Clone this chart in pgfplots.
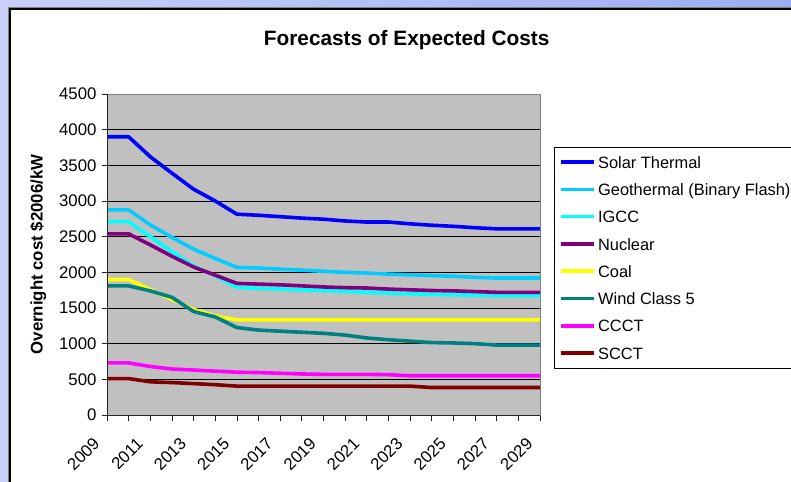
\documentclass[border=0pt]{standalone}
\usepackage{fontspec}
\setmainfont{Liberation Sans}
\usepackage{pgfplots}
\usepackage{pgfplotstable}
\pgfplotsset{compat=1.18}

\definecolor{plotgray}{RGB}{192,192,192}
\definecolor{framegray}{RGB}{128,128,128}
\definecolor{bgA}{RGB}{200,208,248}
\definecolor{bgB}{RGB}{156,172,244}
\definecolor{solarc}{RGB}{0,0,255}
\definecolor{geoc}{RGB}{0,204,255}
\definecolor{igccc}{RGB}{0,255,255}
\definecolor{nucc}{RGB}{128,0,128}
\definecolor{coalc}{RGB}{255,255,0}
\definecolor{windc}{RGB}{0,128,128}
\definecolor{ccctc}{RGB}{255,0,255}
\definecolor{scctc}{RGB}{128,0,0}

% Overnight cost forecasts, $2006/kW
\pgfplotstableread{
year solar geo  igcc nuclear coal wind ccct scct
2009 3900  2875 2710 2540    1900 1810 730  510
2010 3900  2875 2710 2540    1900 1810 730  510
2011 3620  2665 2500 2385    1760 1740 680  465
2012 3390  2490 2290 2225    1620 1650 645  455
2013 3165  2325 2090 2075    1480 1450 630  440
2014 3000  2195 1950 1960    1390 1375 615  425
2015 2815  2070 1790 1845    1335 1225 600  405
2016 2800  2060 1775 1835    1335 1190 595  405
2017 2780  2045 1765 1825    1335 1175 585  405
2018 2760  2030 1755 1810    1335 1160 575  405
2019 2745  2015 1745 1795    1335 1145 570  405
2020 2720  2000 1735 1785    1335 1120 570  405
2021 2705  1990 1720 1780    1335 1080 570  405
2022 2705  1975 1710 1765    1335 1055 565  405
2023 2680  1965 1700 1755    1335 1035 550  405
2024 2660  1955 1690 1745    1335 1015 550  385
2025 2645  1945 1685 1740    1335 1010 550  385
2026 2625  1930 1680 1730    1335 1000 550  385
2027 2610  1920 1675 1720    1335  980 550  385
2028 2610  1920 1675 1720    1335  980 550  385
2029 2610  1920 1675 1720    1335  980 550  385
}\costs

\newcommand{\reg}{\fontsize{16.8bp}{20bp}\selectfont}
\newcommand{\leg}{\fontsize{16.4bp}{20bp}\selectfont}

\begin{document}
\begin{tikzpicture}
\path[use as bounding box] (0bp,0bp) rectangle (791bp,482bp);
\clip (0bp,0bp) rectangle (791bp,482bp);
% slide background and chart panel
\shade[left color=bgA, right color=bgB] (0bp,0bp) rectangle (791bp,482bp);
\fill[white] (10bp,-5bp) rectangle (800bp,473bp);
\draw[framegray, line width=1.2bp] (8.6bp,-5bp) -- (8.6bp,474.4bp) -- (800bp,474.4bp);
\draw[black, line width=1.4bp] (10bp,-5bp) -- (10bp,473bp) -- (800bp,473bp);
\node[font=\bfseries\fontsize{20.8bp}{24bp}\selectfont, anchor=base] at (406.7bp,436bp) {Forecasts of Expected Costs};

\begin{axis}[
  at={(107bp,67bp)}, anchor=south west,
  scale only axis, width=433bp, height=321bp,
  xmin=2009, xmax=2029, ymin=0, ymax=4500,
  xtick={2009,2011,...,2029},
  minor xtick={2010,2012,...,2028},
  ytick={0,500,...,4500},
  xticklabel={\pgfmathprintnumber[1000 sep={},assume math mode=true]{\tick}},
  yticklabel={\pgfmathprintnumber[1000 sep={},assume math mode=true]{\tick}},
  tick pos=left, tick align=outside,
  major tick length=5.5bp, minor tick length=5.5bp,
  tick style={black!85, line width=0.8bp},
  minor tick style={black!85, line width=0.8bp},
  ymajorgrids, grid style={black, line width=0.8bp},
  axis background/.style={fill=plotgray},
  axis line style={draw=framegray, line width=0.9bp},
  tick label style={font=\reg},
  yticklabel style={xshift=-1.5bp},
  xticklabel style={anchor=east, yshift=-18bp, xshift=-8bp, rotate=45},
  ylabel={Overnight cost \$2006/kW},
  every axis y label/.style={at={(axis description cs:-0.159,0.5)}, rotate=90, anchor=center, font=\bfseries\reg},
  clip mode=individual,
  no markers,
  every axis plot/.append style={line width=3.6bp, line join=round},
  legend cell align=left,
  legend style={at={(1.033,0.834)}, anchor=north west, draw=black, line width=0.9bp, fill=white,
    inner xsep=4bp, inner ysep=7.4bp, font=\leg,
    nodes={inner xsep=2.5bp, inner ysep=0bp, text height=13bp, text depth=1.5bp},
    /tikz/column sep=0pt, /tikz/row sep=12.8bp},
  legend image code/.code={\draw[#1] (0bp,0.3bp) -- (33.3bp,0.3bp);},
]
\addplot[solarc] table[x=year, y=solar] {\costs};
\addlegendentry{Solar Thermal}
\addplot[geoc] table[x=year, y=geo] {\costs};
\addlegendentry{Geothermal (Binary Flash)}
\addplot[igccc] table[x=year, y=igcc] {\costs};
\addlegendentry{IGCC}
\addplot[nucc] table[x=year, y=nuclear] {\costs};
\addlegendentry{Nuclear}
\addplot[coalc] table[x=year, y=coal] {\costs};
\addlegendentry{Coal}
\addplot[windc] table[x=year, y=wind] {\costs};
\addlegendentry{Wind Class 5}
\addplot[ccctc] table[x=year, y=ccct] {\costs};
\addlegendentry{CCCT}
\addplot[scctc] table[x=year, y=scct] {\costs};
\addlegendentry{SCCT}
% value axes drawn over the series ends
\draw[black!85, line width=1bp] (rel axis cs:0,1) -- (rel axis cs:0,0) -- (rel axis cs:1,0);
\end{axis}
\end{tikzpicture}
\end{document}
